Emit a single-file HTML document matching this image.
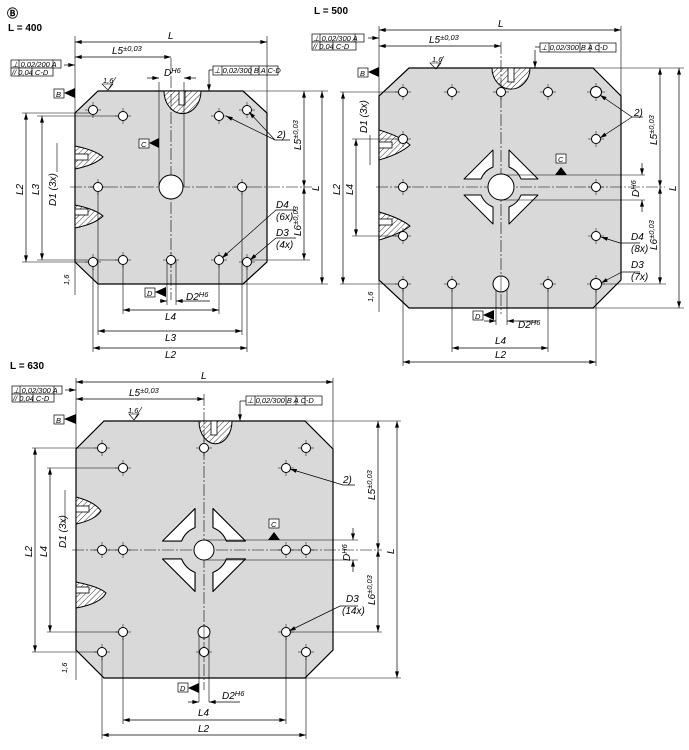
<!DOCTYPE html>
<html><head><meta charset="utf-8"><style>
html,body{margin:0;padding:0;background:#fff}
svg{display:block}
text{font-family:"Liberation Sans",sans-serif;font-style:italic;font-size:10px;fill:#000}
.b{font-style:normal;font-weight:bold;font-size:10px}
.s{font-size:7.5px}
.t{font-size:7.5px}
</style></head><body>
<svg width="689" height="750" viewBox="0 0 689 750" xmlns="http://www.w3.org/2000/svg">
<defs>
<marker id="a" viewBox="0 0 10 6" refX="10" refY="3" markerWidth="8" markerHeight="4" orient="auto-start-reverse" markerUnits="userSpaceOnUse"><path d="M0,0 L10,3 L0,6 Z" fill="#000"/></marker>
<pattern id="h" width="4" height="4" patternUnits="userSpaceOnUse" patternTransform="rotate(45)"><rect width="4" height="4" fill="#fff"/><line x1="0" y1="0" x2="0" y2="4" stroke="#000" stroke-width="0.8"/></pattern>
<g id="ho"><line x1="-8" y1="0" x2="8" y2="0" stroke="#000" stroke-width="0.5"/><line x1="0" y1="-8" x2="0" y2="8" stroke="#000" stroke-width="0.5"/><circle r="4.5" fill="#fff" stroke="#000" stroke-width="1"/></g>
<g id="hb"><line x1="-9" y1="0" x2="9" y2="0" stroke="#000" stroke-width="0.5"/><line x1="0" y1="-9" x2="0" y2="9" stroke="#000" stroke-width="0.5"/><circle r="5.5" fill="#fff" stroke="#000" stroke-width="1"/></g>
<path id="pk" d="M-8,-37 L-8,-20 A21.5 21.5 0 0 0 -20,-8 L-37,-8 Z" fill="#fff" stroke="#000" stroke-width="1" stroke-linejoin="round"/>
<g id="pks"><use href="#pk"/><use href="#pk" transform="rotate(90)"/><use href="#pk" transform="rotate(180)"/><use href="#pk" transform="rotate(270)"/></g>
</defs>

<!-- ============ PLATE 1 L=400 ============ -->
<text x="7" y="17" class="b" style="font-size:11px">Ⓑ</text>
<text x="8" y="31" class="b">L = 400</text>
<polygon points="98,91 243,91 267,113 267,262 243,284 98,284 75,262 75,113" fill="#d9d9d9" stroke="#000" stroke-width="1.2"/>
<path d="M164,91 A18 22 0 0 0 201,91 Z" fill="url(#h)" stroke="#000"/>
<rect x="179" y="91" width="6" height="14" fill="#fff" stroke="#000" stroke-width="0.8"/>
<path d="M75,146 Q95,150 103,157 Q95,165 75,169 Z" fill="url(#h)" stroke="#000"/>
<rect x="75" y="154" width="13" height="6" fill="#fff" stroke="#000" stroke-width="0.8"/>
<path d="M75,205 Q95,209 103,216 Q95,224 75,228 Z" fill="url(#h)" stroke="#000"/>
<rect x="75" y="209" width="13" height="6" fill="#fff" stroke="#000" stroke-width="0.8"/>
<g stroke="#000" stroke-width="0.6" fill="none">
<line x1="171" y1="58" x2="171" y2="300" stroke-dasharray="12,2,2,2"/>
<line x1="70" y1="187" x2="312" y2="187" stroke-dasharray="12,2,2,2"/>
<line x1="75" y1="36" x2="75" y2="295"/><line x1="267" y1="36" x2="267" y2="113"/>
<line x1="159" y1="82" x2="159" y2="187"/><line x1="184" y1="82" x2="184" y2="187"/>
<line x1="243" y1="91" x2="328" y2="91"/><line x1="243" y1="284" x2="328" y2="284"/>
<line x1="250" y1="260" x2="310" y2="260"/>
<line x1="22" y1="113" x2="93" y2="113"/><line x1="37" y1="116" x2="123" y2="116"/>
<line x1="22" y1="262" x2="93" y2="262"/><line x1="37" y1="260" x2="123" y2="260"/>
<line x1="93" y1="262" x2="93" y2="352"/><line x1="98" y1="187" x2="98" y2="335"/>
<line x1="123" y1="260" x2="123" y2="314"/><line x1="219" y1="260" x2="219" y2="314"/>
<line x1="242" y1="187" x2="242" y2="335"/><line x1="247" y1="262" x2="247" y2="352"/>
<line x1="167" y1="260" x2="167" y2="305"/><line x1="176" y1="260" x2="176" y2="305"/>
<line x1="57" y1="143" x2="57" y2="172"/>
</g>
<use href="#ho" x="93" y="110"/><use href="#ho" x="247" y="110"/><use href="#ho" x="93" y="262"/><use href="#ho" x="247" y="262"/>
<use href="#ho" x="123" y="116"/><use href="#ho" x="219" y="116"/><use href="#ho" x="98" y="187"/><use href="#ho" x="242" y="187"/><use href="#ho" x="123" y="260"/><use href="#ho" x="219" y="260"/>
<use href="#ho" x="171" y="260"/>
<circle cx="171" cy="187" r="12" fill="#fff" stroke="#000"/>
<g stroke="#000" stroke-width="0.7" marker-start="url(#a)" marker-end="url(#a)">
<line x1="75" y1="42" x2="267" y2="42"/><line x1="75" y1="57" x2="171" y2="57"/>
<line x1="304" y1="91" x2="304" y2="187"/><line x1="304" y1="187" x2="304" y2="260"/>
<line x1="322" y1="91" x2="322" y2="284"/>
<line x1="26" y1="113" x2="26" y2="262"/><line x1="42" y1="116" x2="42" y2="260"/>
<line x1="123" y1="310" x2="219" y2="310"/><line x1="98" y1="331" x2="242" y2="331"/><line x1="93" y1="348" x2="247" y2="348"/>
</g>
<g stroke="#000" stroke-width="0.7" fill="none">
<line x1="147" y1="78" x2="159" y2="78" marker-end="url(#a)"/><line x1="196" y1="78" x2="184" y2="78" marker-end="url(#a)"/>
<line x1="160" y1="301" x2="167" y2="301" marker-end="url(#a)"/><line x1="210" y1="301" x2="176" y2="301" marker-end="url(#a)"/>
<polyline points="290,140 275,140 226,116" marker-end="url(#a)"/><line x1="275" y1="140" x2="249" y2="112" marker-end="url(#a)"/>
<polyline points="296,210 276,210 222,258" marker-end="url(#a)"/><polyline points="296,238 276,238 250,260" marker-end="url(#a)"/>
<polyline points="209,70 209,91" marker-end="url(#a)"/>
<line x1="64" y1="65" x2="75" y2="65" marker-end="url(#a)"/>
</g>
<text x="168" y="39">L</text>
<text x="112" y="54">L5<tspan class="s" dy="-3">±0,03</tspan></text>
<text x="164" y="76">D<tspan class="s" dy="-3">H6</tspan></text>
<text x="103" y="83" class="s">1,6</text><path d="M102,84 L108,90 L113,84 Z M108,90 L116,77" fill="none" stroke="#000" stroke-width="0.6"/>
<text x="277" y="138">2)</text>
<text x="276" y="208">D4</text><text x="276" y="220">(6x)</text>
<text x="276" y="236">D3</text><text x="276" y="248">(4x)</text>
<text transform="translate(301,150) rotate(-90)">L5<tspan class="s" dy="-3">±0,03</tspan></text>
<text transform="translate(301,236) rotate(-90)">L6<tspan class="s" dy="-3">±0,03</tspan></text>
<text transform="translate(319,191) rotate(-90)">L</text>
<text transform="translate(23,195) rotate(-90)">L2</text>
<text transform="translate(39,195) rotate(-90)">L3</text>
<text transform="translate(56,206) rotate(-90)">D1 (3x)</text>
<text x="165" y="320">L4</text><text x="165" y="341">L3</text><text x="165" y="358">L2</text>
<text x="186" y="300">D2<tspan class="s" dy="-3">H6</tspan></text>
<text transform="translate(69,285) rotate(-90)" class="s">1,6</text>
<rect x="54" y="89" width="10" height="9" fill="#fff" stroke="#000" stroke-width="0.7"/><text x="56" y="97" class="t">B</text><path d="M64,93 L75,88 L75,98 Z" fill="#000"/>
<rect x="139" y="139" width="10" height="9" fill="#fff" stroke="#000" stroke-width="0.7"/><text x="141" y="147" class="t">C</text><path d="M149,143 L159,138 L159,148 Z" fill="#000"/>
<rect x="145" y="288" width="10" height="9" fill="#fff" stroke="#000" stroke-width="0.7"/><text x="147" y="296" class="t">D</text><path d="M155,292 L166,287 L166,297 Z" fill="#000"/>
<g stroke="#000" stroke-width="0.7" fill="#fff"><rect x="11" y="60" width="50" height="8"/><rect x="11" y="68" width="42" height="8"/><line x1="19" y1="60" x2="19" y2="76"/><line x1="53" y1="60" x2="53" y2="68"/><line x1="32" y1="68" x2="32" y2="76"/></g>
<text x="12" y="67" class="t">⊥ 0,02/200 A</text><text x="12" y="75" class="t">// 0,04 C-D</text>
<g stroke="#000" stroke-width="0.7" fill="#fff"><rect x="213" y="66" width="65" height="9"/><line x1="222" y1="66" x2="222" y2="75"/><line x1="251" y1="66" x2="251" y2="75"/><line x1="259" y1="66" x2="259" y2="75"/><line x1="267" y1="66" x2="267" y2="75"/></g>
<text x="214" y="73" class="t">⊥ 0,02/300  B  A  C-D</text><line x1="209" y1="70" x2="213" y2="70" stroke="#000" stroke-width="0.7"/>

<!-- ============ PLATE 2 L=500 ============ -->
<text x="314" y="14" class="b">L = 500</text>
<polygon points="409,68 593,68 621,96 621,280 593,308 409,308 379,280 379,96" fill="#d9d9d9" stroke="#000" stroke-width="1.2"/>
<path d="M492,68 A18 20 0 0 0 530,68 Z" fill="url(#h)" stroke="#000"/>
<rect x="508" y="68" width="6" height="14" fill="#fff" stroke="#000" stroke-width="0.8"/>
<path d="M379,130 Q400,136 410,145 Q400,154 379,160 Z" fill="url(#h)" stroke="#000"/>
<rect x="379" y="142" width="13" height="6" fill="#fff" stroke="#000" stroke-width="0.8"/>
<path d="M379,212 Q400,218 410,226 Q400,234 379,240 Z" fill="url(#h)" stroke="#000"/>
<rect x="379" y="219" width="13" height="6" fill="#fff" stroke="#000" stroke-width="0.8"/>
<use href="#pks" x="501" y="187"/>
<g stroke="#000" stroke-width="0.6" fill="none">
<line x1="501" y1="42" x2="501" y2="314" stroke-dasharray="12,2,2,2"/>
<line x1="376" y1="187" x2="665" y2="187" stroke-dasharray="12,2,2,2"/>
<line x1="379" y1="26" x2="379" y2="312"/><line x1="621" y1="26" x2="621" y2="96"/>
<line x1="501" y1="175" x2="645" y2="175"/><line x1="501" y1="200" x2="645" y2="200"/>
<line x1="593" y1="68" x2="684" y2="68"/><line x1="593" y1="308" x2="684" y2="308"/>
<line x1="600" y1="284" x2="666" y2="284"/>
<line x1="340" y1="92" x2="403" y2="92"/><line x1="352" y1="139" x2="403" y2="139"/>
<line x1="352" y1="236" x2="403" y2="236"/><line x1="340" y1="284" x2="403" y2="284"/>
<line x1="403" y1="284" x2="403" y2="366"/><line x1="596" y1="284" x2="596" y2="366"/>
<line x1="452" y1="284" x2="452" y2="352"/><line x1="548" y1="284" x2="548" y2="352"/>
<line x1="496" y1="284" x2="496" y2="325"/><line x1="507" y1="284" x2="507" y2="325"/>
<line x1="370" y1="135" x2="370" y2="165"/>
</g>
<use href="#ho" x="403" y="92"/><use href="#ho" x="452" y="92"/><use href="#ho" x="501" y="92"/><use href="#ho" x="548" y="92"/><use href="#hb" x="596" y="92"/>
<use href="#ho" x="403" y="139"/><use href="#ho" x="596" y="139"/>
<use href="#ho" x="403" y="187"/><use href="#ho" x="596" y="187"/>
<use href="#ho" x="403" y="236"/><use href="#ho" x="596" y="236"/>
<use href="#ho" x="403" y="284"/><use href="#ho" x="452" y="284"/><use href="#ho" x="548" y="284"/><use href="#hb" x="596" y="284"/>
<circle cx="501" cy="284" r="8" fill="#fff" stroke="#000"/><line x1="501" y1="276" x2="501" y2="292" stroke="#000" stroke-width="0.5"/>
<circle cx="501" cy="187" r="13" fill="#fff" stroke="#000"/>
<g stroke="#000" stroke-width="0.7" marker-start="url(#a)" marker-end="url(#a)">
<line x1="379" y1="30" x2="621" y2="30"/><line x1="379" y1="46" x2="501" y2="46"/>
<line x1="660" y1="68" x2="660" y2="187"/><line x1="660" y1="187" x2="660" y2="284"/>
<line x1="679" y1="68" x2="679" y2="308"/>
<line x1="343" y1="92" x2="343" y2="284"/><line x1="356" y1="139" x2="356" y2="236"/>
<line x1="452" y1="348" x2="548" y2="348"/><line x1="403" y1="362" x2="596" y2="362"/>
</g>
<g stroke="#000" stroke-width="0.7" fill="none">
<line x1="642" y1="163" x2="642" y2="175" marker-end="url(#a)"/><line x1="642" y1="212" x2="642" y2="200" marker-end="url(#a)"/>
<line x1="484" y1="321" x2="496" y2="321" marker-end="url(#a)"/><line x1="538" y1="321" x2="507" y2="321" marker-end="url(#a)"/>
<polyline points="643,117 632,117 600,95" marker-end="url(#a)"/><line x1="632" y1="117" x2="600" y2="138" marker-end="url(#a)"/>
<polyline points="640,243 620,243 601,237" marker-end="url(#a)"/><polyline points="640,272 622,272 601,283" marker-end="url(#a)"/>
<polyline points="535,50 535,68" marker-end="url(#a)"/>
<line x1="368" y1="38" x2="379" y2="38" marker-end="url(#a)"/>
</g>
<text x="498" y="27">L</text>
<text x="429" y="43">L5<tspan class="s" dy="-3">±0,03</tspan></text>
<text x="432" y="62" class="s">1,6</text><path d="M430,63 L436,69 L441,63 Z M436,69 L444,56" fill="none" stroke="#000" stroke-width="0.6"/>
<text x="634" y="116">2)</text>
<text x="631" y="240">D4</text><text x="631" y="252">(8x)</text>
<text x="631" y="268">D3</text><text x="631" y="280">(7x)</text>
<text transform="translate(657,145) rotate(-90)">L5<tspan class="s" dy="-3">±0,03</tspan></text>
<text transform="translate(657,250) rotate(-90)">L6<tspan class="s" dy="-3">±0,03</tspan></text>
<text transform="translate(676,191) rotate(-90)">L</text>
<text transform="translate(639,197) rotate(-90)">D<tspan class="s" dy="-3">H6</tspan></text>
<text transform="translate(340,195) rotate(-90)">L2</text>
<text transform="translate(353,195) rotate(-90)">L4</text>
<text transform="translate(367,133) rotate(-90)">D1 (3x)</text>
<text x="495" y="344">L4</text><text x="495" y="358">L2</text>
<text x="518" y="328">D2<tspan class="s" dy="-3">H6</tspan></text>
<text transform="translate(373,302) rotate(-90)" class="s">1,6</text>
<rect x="358" y="68" width="10" height="9" fill="#fff" stroke="#000" stroke-width="0.7"/><text x="360" y="76" class="t">B</text><path d="M368,72 L379,67 L379,77 Z" fill="#000"/>
<rect x="556" y="154" width="10" height="9" fill="#fff" stroke="#000" stroke-width="0.7"/><text x="558" y="162" class="t">C</text><path d="M555,175 L561,167 L567,175 Z" fill="#000"/>
<rect x="473" y="311" width="10" height="9" fill="#fff" stroke="#000" stroke-width="0.7"/><text x="475" y="319" class="t">D</text><path d="M483,315 L494,310 L494,320 Z" fill="#000"/>
<g stroke="#000" stroke-width="0.7" fill="#fff"><rect x="312" y="34" width="52" height="8"/><rect x="312" y="42" width="44" height="8"/><line x1="320" y1="34" x2="320" y2="50"/><line x1="355" y1="34" x2="355" y2="42"/><line x1="333" y1="42" x2="333" y2="50"/></g>
<text x="313" y="41" class="t">⊥ 0,02/300 A</text><text x="313" y="49" class="t">// 0,04 C-D</text>
<g stroke="#000" stroke-width="0.7" fill="#fff"><rect x="540" y="43" width="76" height="9"/><line x1="549" y1="43" x2="549" y2="52"/><line x1="580" y1="43" x2="580" y2="52"/><line x1="590" y1="43" x2="590" y2="52"/><line x1="599" y1="43" x2="599" y2="52"/></g>
<text x="541" y="50" class="t">⊥ 0,02/300  B  A  C-D</text><line x1="535" y1="47" x2="540" y2="47" stroke="#000" stroke-width="0.7"/>

<!-- ============ PLATE 3 L=630 ============ -->
<text x="10" y="369" class="b">L = 630</text>
<polygon points="104,421 305,421 333,449 333,650 305,678 104,678 76,650 76,449" fill="#d9d9d9" stroke="#000" stroke-width="1.2"/>
<path d="M199,421 A16 22 0 0 0 232,421 Z" fill="url(#h)" stroke="#000"/>
<rect x="211" y="421" width="6" height="14" fill="#fff" stroke="#000" stroke-width="0.8"/>
<path d="M76,497 Q95,502 101,511 Q95,520 76,524 Z" fill="url(#h)" stroke="#000"/>
<rect x="76" y="506" width="13" height="6" fill="#fff" stroke="#000" stroke-width="0.8"/>
<path d="M76,582 Q100,587 106,593 Q100,604 76,608 Z" fill="url(#h)" stroke="#000"/>
<rect x="76" y="587" width="13" height="6" fill="#fff" stroke="#000" stroke-width="0.8"/>
<use href="#pks" transform="translate(204,550) scale(1.12)"/>
<g stroke="#000" stroke-width="0.6" fill="none">
<line x1="204" y1="394" x2="204" y2="690" stroke-dasharray="12,2,2,2"/>
<line x1="72" y1="550" x2="382" y2="550" stroke-dasharray="12,2,2,2"/>
<line x1="76" y1="378" x2="76" y2="680"/><line x1="333" y1="378" x2="333" y2="449"/>
<line x1="204" y1="540" x2="358" y2="540"/><line x1="204" y1="560" x2="358" y2="560"/>
<line x1="305" y1="421" x2="401" y2="421"/><line x1="305" y1="678" x2="401" y2="678"/>
<line x1="290" y1="632" x2="382" y2="632"/>
<line x1="32" y1="448" x2="102" y2="448"/><line x1="47" y1="468" x2="123" y2="468"/>
<line x1="47" y1="632" x2="123" y2="632"/><line x1="32" y1="652" x2="102" y2="652"/>
<line x1="102" y1="652" x2="102" y2="739"/><line x1="306" y1="652" x2="306" y2="739"/>
<line x1="123" y1="632" x2="123" y2="724"/><line x1="286" y1="632" x2="286" y2="724"/>
<line x1="199" y1="632" x2="199" y2="702"/><line x1="209" y1="632" x2="209" y2="702"/>
<line x1="65" y1="490" x2="65" y2="522"/>
</g>
<use href="#ho" x="102" y="448"/><use href="#ho" x="204" y="448"/><use href="#ho" x="306" y="448"/>
<use href="#ho" x="123" y="468"/><use href="#ho" x="286" y="468"/>
<use href="#ho" x="102" y="550"/><use href="#ho" x="123" y="550"/><use href="#ho" x="286" y="550"/><use href="#ho" x="306" y="550"/>
<use href="#ho" x="123" y="632"/><use href="#ho" x="286" y="632"/>
<use href="#ho" x="102" y="652"/><use href="#ho" x="204" y="652"/><use href="#ho" x="306" y="652"/>
<circle cx="204" cy="632" r="6" fill="#fff" stroke="#000"/><line x1="204" y1="624" x2="204" y2="640" stroke="#000" stroke-width="0.5"/>
<circle cx="204" cy="550" r="10" fill="#fff" stroke="#000"/>
<g stroke="#000" stroke-width="0.7" marker-start="url(#a)" marker-end="url(#a)">
<line x1="76" y1="382" x2="333" y2="382"/><line x1="76" y1="399" x2="204" y2="399"/>
<line x1="378" y1="421" x2="378" y2="550"/><line x1="378" y1="550" x2="378" y2="632"/>
<line x1="397" y1="421" x2="397" y2="678"/>
<line x1="35" y1="448" x2="35" y2="652"/><line x1="50" y1="468" x2="50" y2="632"/>
<line x1="123" y1="720" x2="286" y2="720"/><line x1="102" y1="735" x2="306" y2="735"/>
</g>
<g stroke="#000" stroke-width="0.7" fill="none">
<line x1="353" y1="528" x2="353" y2="540" marker-end="url(#a)"/><line x1="353" y1="572" x2="353" y2="560" marker-end="url(#a)"/>
<line x1="188" y1="702" x2="199" y2="702" marker-end="url(#a)"/><line x1="240" y1="702" x2="209" y2="702" marker-end="url(#a)"/>
<polyline points="355,485 343,485 290,469" marker-end="url(#a)"/>
<polyline points="358,606 340,606 289,631" marker-end="url(#a)"/>
<polyline points="240,401 240,421" marker-end="url(#a)"/>
<line x1="65" y1="390" x2="76" y2="390" marker-end="url(#a)"/>
</g>
<text x="201" y="379">L</text>
<text x="129" y="396">L5<tspan class="s" dy="-3">±0,03</tspan></text>
<text x="128" y="413" class="s">1,6</text><path d="M129,414 L134,420 L139,414 Z M134,420 L142,407" fill="none" stroke="#000" stroke-width="0.6"/>
<text x="343" y="483">2)</text>
<text x="346" y="602">D3</text><text x="342" y="614">(14x)</text>
<text transform="translate(375,500) rotate(-90)">L5<tspan class="s" dy="-3">±0,03</tspan></text>
<text transform="translate(375,605) rotate(-90)">L6<tspan class="s" dy="-3">±0,03</tspan></text>
<text transform="translate(394,554) rotate(-90)">L</text>
<text transform="translate(350,561) rotate(-90)">D<tspan class="s" dy="-3">H6</tspan></text>
<text transform="translate(32,557) rotate(-90)">L2</text>
<text transform="translate(47,557) rotate(-90)">L4</text>
<text transform="translate(66,548) rotate(-90)">D1 (3x)</text>
<text x="198" y="716">L4</text><text x="198" y="732">L2</text>
<text x="222" y="699">D2<tspan class="s" dy="-3">H6</tspan></text>
<text transform="translate(67,673) rotate(-90)" class="s">1,6</text>
<rect x="54" y="415" width="10" height="9" fill="#fff" stroke="#000" stroke-width="0.7"/><text x="56" y="423" class="t">B</text><path d="M64,419 L76,414 L76,424 Z" fill="#000"/>
<rect x="269" y="519" width="10" height="9" fill="#fff" stroke="#000" stroke-width="0.7"/><text x="271" y="527" class="t">C</text><path d="M268,540 L274,532 L280,540 Z" fill="#000"/>
<rect x="178" y="683" width="10" height="9" fill="#fff" stroke="#000" stroke-width="0.7"/><text x="180" y="691" class="t">D</text><path d="M188,688 L199,683 L199,693 Z" fill="#000"/>
<g stroke="#000" stroke-width="0.7" fill="#fff"><rect x="12" y="386" width="50" height="8"/><rect x="12" y="394" width="42" height="8"/><line x1="20" y1="386" x2="20" y2="402"/><line x1="54" y1="386" x2="54" y2="394"/><line x1="33" y1="394" x2="33" y2="402"/></g>
<text x="13" y="393" class="t">⊥ 0,02/300 A</text><text x="13" y="401" class="t">// 0,04 C-D</text>
<g stroke="#000" stroke-width="0.7" fill="#fff"><rect x="246" y="396" width="76" height="9"/><line x1="255" y1="396" x2="255" y2="405"/><line x1="286" y1="396" x2="286" y2="405"/><line x1="296" y1="396" x2="296" y2="405"/><line x1="305" y1="396" x2="305" y2="405"/></g>
<text x="247" y="403" class="t">⊥ 0,02/300  B  A  C-D</text><line x1="240" y1="401" x2="246" y2="401" stroke="#000" stroke-width="0.7"/>
</svg>
</body></html>
